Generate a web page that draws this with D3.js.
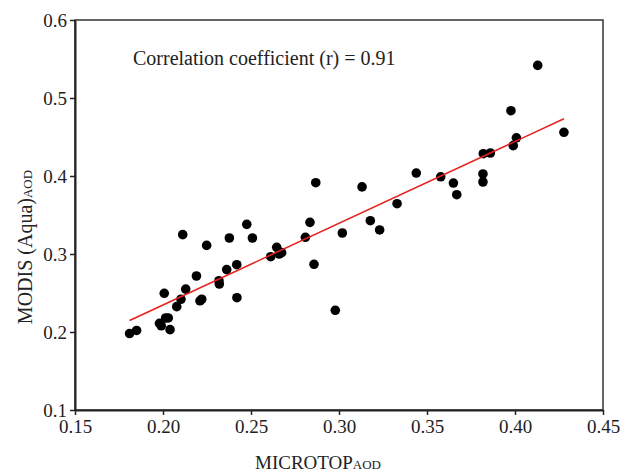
<!DOCTYPE html>
<html>
<head>
<meta charset="utf-8">
<script src="https://cdn.jsdelivr.net/npm/d3@7"></script>
<style>
  body { margin: 0; background: #fff; }
  text { font-family: "Liberation Serif", "DejaVu Serif", serif; fill: #222; }
</style>
</head>
<body>
<div id="chart"></div>
<script>
// MICROTOP AOD (x) vs MODIS Aqua AOD (y)
const microtop = [0.181, 0.185, 0.198, 0.199, 0.2015, 0.203, 0.204, 0.2007, 0.2078, 0.2102,
  0.2129, 0.2112, 0.219, 0.221, 0.222, 0.2248, 0.2318, 0.232, 0.2362, 0.2377,
  0.2419, 0.242, 0.2508, 0.2476, 0.2612, 0.2646, 0.2674, 0.266, 0.2809, 0.2835,
  0.2868, 0.2858, 0.2979, 0.3019, 0.3131, 0.3178, 0.3231, 0.333, 0.3439, 0.3578,
  0.365, 0.3669, 0.3818, 0.3818, 0.382, 0.386, 0.399, 0.4008, 0.3977, 0.4129, 0.4278];
const modis = [0.198, 0.202, 0.211, 0.208, 0.218, 0.218, 0.203, 0.2496, 0.2325, 0.242,
  0.255, 0.3248, 0.2718, 0.240, 0.242, 0.311, 0.2658, 0.2615, 0.280, 0.3205,
  0.2863, 0.244, 0.3205, 0.338, 0.2965, 0.3085, 0.3017, 0.300, 0.3214, 0.3406,
  0.3914, 0.2868, 0.2278, 0.3269, 0.386, 0.3427, 0.3308, 0.3645, 0.4038, 0.399,
  0.391, 0.376, 0.4026, 0.3923, 0.4286, 0.4295, 0.4389, 0.449, 0.4837, 0.5418, 0.456];
const fitSlope = 1.048;
const fitIntercept = 0.025;
const xTicks = [0.15, 0.20, 0.25, 0.30, 0.35, 0.40, 0.45];
const yTicks = [0.1, 0.2, 0.3, 0.4, 0.5, 0.6];
const corrLabel = "Correlation coefficient (r) = 0.91";

const width = 625, height = 474;
const margin = { top: 20, right: 22, bottom: 64, left: 75 };

const svg = d3.select("#chart").append("svg")
  .attr("width", width)
  .attr("height", height);

const x = d3.scaleLinear().domain([0.15, 0.45]).range([margin.left, width - margin.right]);
const y = d3.scaleLinear().domain([0.1, 0.6]).range([height - margin.bottom, margin.top]);

// frame (top + right)
svg.append("rect")
  .attr("x", x(0.15)).attr("y", y(0.6))
  .attr("width", x(0.45) - x(0.15)).attr("height", y(0.1) - y(0.6))
  .attr("fill", "none").attr("stroke", "#333").attr("stroke-width", 1.5);

const xAxis = svg.append("g")
  .attr("transform", `translate(0,${y(0.1)})`)
  .call(d3.axisBottom(x).tickValues(xTicks).tickFormat(d3.format(".2f")).tickSizeInner(5).tickSizeOuter(0).tickPadding(5));
const yAxis = svg.append("g")
  .attr("transform", `translate(${x(0.15)},0)`)
  .call(d3.axisLeft(y).tickValues(yTicks).tickFormat(d3.format(".1f")).tickSizeInner(5).tickSizeOuter(0).tickPadding(3));

[xAxis, yAxis].forEach((g) => {
  g.select(".domain").attr("stroke", "#222").attr("stroke-width", 2);
  g.selectAll(".tick line").attr("stroke", "#222").attr("stroke-width", 1.5);
  g.selectAll(".tick text").style("font-size", "19px").attr("fill", "#222")
    .style("font-family", "'Liberation Serif', serif");
});

// points
svg.append("g")
  .selectAll("circle")
  .data(microtop.map((d, i) => ({ x: d, y: modis[i] })))
  .enter()
  .append("circle")
  .attr("cx", (d) => x(d.x))
  .attr("cy", (d) => y(d.y))
  .attr("r", 4.8)
  .attr("fill", "#000");

// regression line
const xMin = d3.min(microtop), xMax = d3.max(microtop);
svg.append("line")
  .attr("x1", x(xMin)).attr("y1", y(fitIntercept + fitSlope * xMin))
  .attr("x2", x(xMax)).attr("y2", y(fitIntercept + fitSlope * xMax))
  .attr("stroke", "#e8201f").attr("stroke-width", 1.5);

svg.append("text")
  .attr("x", 133).attr("y", 65)
  .style("font-size", "20px")
  .text(corrLabel);

// axis titles
const xt = svg.append("text")
  .attr("x", 318).attr("y", 469)
  .attr("text-anchor", "middle")
  .style("font-size", "19px");
xt.append("tspan").text("MICROTOP");
xt.append("tspan").style("font-size", "13px").text("AOD");

const yt = svg.append("text")
  .attr("transform", `translate(32,247) rotate(-90)`)
  .attr("text-anchor", "middle")
  .style("font-size", "20px");
yt.append("tspan").text("MODIS (Aqua)");
yt.append("tspan").style("font-size", "13px").text("AOD");
</script>
</body>
</html>
